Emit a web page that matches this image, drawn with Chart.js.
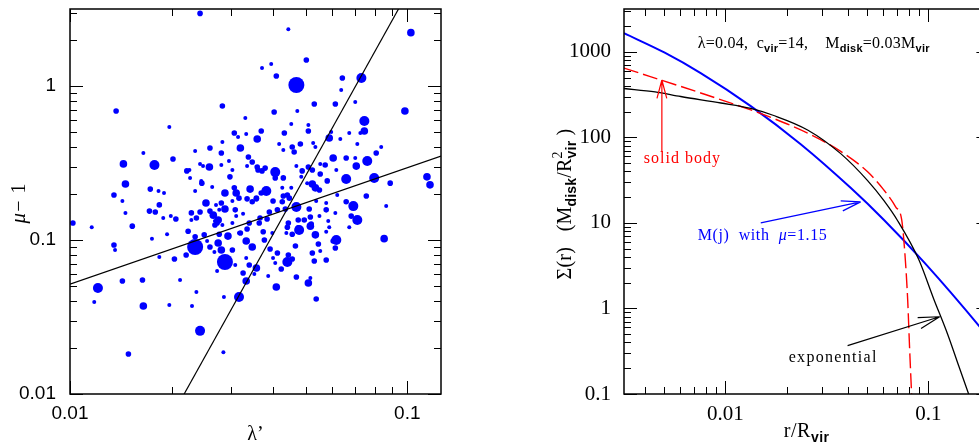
<!DOCTYPE html>
<html>
<head>
<meta charset="utf-8">
<script src="https://cdn.jsdelivr.net/npm/chart.js@4.4.1/dist/chart.umd.min.js"></script>
<style>
  html, body { margin: 0; padding: 0; background: #fff; width: 979px; height: 443px; overflow: hidden; }
  #left { position: absolute; left: 0; top: 0; }
  #right { position: absolute; left: 480px; top: 0; }
</style>
</head>
<body>
<canvas id="left" width="480" height="443"></canvas>
<canvas id="right" width="520" height="443"></canvas>
<script>
// ── Left panel data: spin parameter vs. shape parameter ──
const lambdaPrime = [
  0.0243,0.0444,0.1025,0.0502,0.0371,0.0395,0.0409,0.0469,0.0731,0.0642,
  0.0637,0.0283,0.0403,0.0472,0.0530,0.0612,0.0701,0.0984,0.0746,0.0331,
  0.0137,0.0197,0.0165,0.0144,0.0178,0.0202,0.0146,0.0135,0.0143,0.0146,
  0.0173,0.0183,0.0190,0.0184,0.0172,0.0179,0.0189,0.0199,0.0206,0.0153,
  0.0116,0.0102,0.0235,0.0260,0.0283,0.0281,0.0307,0.0315,0.0333,0.0359,
  0.0320,0.0338,0.0347,0.0335,0.0361,0.0296,0.0281,0.0303,0.0298,0.0259,
  0.0248,0.0243,0.0222,0.0226,0.0227,0.0245,0.0246,0.0264,0.0235,0.0288,
  0.0307,0.0311,0.0317,0.0342,0.0335,0.0347,0.0357,0.0253,0.0271,0.0281,
  0.0288,0.0309,0.0303,0.0277,0.0266,0.0275,0.0243,0.0229,0.0237,0.0229,
  0.0260,0.0311,0.0326,0.0303,0.0340,0.0364,0.0283,0.0273,
  0.0746,0.0726,0.0673,0.0453,0.0509,0.0369,0.0432,0.0509,0.0587,0.0595,
  0.0633,0.0417,0.0456,0.0482,0.0526,0.0462,0.0429,0.0534,0.0711,0.0809,
  0.0837,0.0603,0.0659,0.0701,0.0761,0.0706,0.0571,0.0552,0.0469,0.0509,
  0.0616,0.0488,0.0523,0.0552,0.0485,0.0429,0.0406,0.0406,0.0359,0.0379,
  0.0371,0.0579,0.0659,0.0798,0.0890,0.1144,0.1168,0.0523,0.0534,0.0549,
  0.0505,0.0426,0.0453,0.0382,0.0369,0.0357,0.0400,0.0429,0.0441,0.0447,
  0.0469,0.0512,0.0537,0.0575,0.0620,0.0659,0.0692,0.0756,0.0866,0.0575,
  0.0612,0.0549,0.0516,0.0682,0.0711,0.0426,0.0412,0.0435,0.0390,0.0366,
  0.0384,0.0444,0.0475,0.0495,0.0519,0.0583,0.0587,0.0673,0.0475,0.0441,
  0.0135,0.0136,0.0175,0.0194,0.0224,0.0235,0.0235,0.0221,0.0250,0.0255,
  0.0260,0.0268,0.0275,0.0277,0.0294,0.0288,0.0281,0.0303,0.0273,0.0309,
  0.0204,0.0184,0.0143,0.0164,0.0212,0.0121,0.0118,0.0165,0.0197,0.0230,
  0.0237,0.0286,0.0317,0.0243,0.0149,0.0285,0.0320,0.0333,0.0347,0.0333,
  0.0340,0.0326,0.0333,0.0357,0.0352,0.0335,0.0317,0.0269,0.0269,0.0854,
  0.0616,0.0603,0.0612,0.0575,0.0545,0.0552,0.0523,0.0530,0.0575,0.0534,
  0.0516,0.0478,0.0456,0.0466,0.0444,0.0441,0.0456,0.0423,0.0469,0.0516,
  0.0509,0.0537,0.0409,0.0387,0.0406,0.0400,0.0412,0.0392,0.0377,0.0374,
  0.0398,0.0438
];
const muMinusOne = [
  2.96,2.34,2.22,1.475,1.309,1.389,1.161,1.015,1.127,1.127,
  0.942,0.741,0.678,0.688,0.764,0.764,0.787,0.688,0.593,0.620,
  0.688,0.542,0.367,0.312,0.307,0.336,0.231,0.196,0.179,0.150,
  0.214,0.208,0.202,0.169,0.154,0.152,0.139,0.143,0.137,0.123,
  0.121,0.129,0.378,0.396,0.433,0.367,0.495,0.467,0.488,0.453,
  0.396,0.346,0.321,0.302,0.285,0.326,0.307,0.285,0.257,0.298,
  0.302,0.312,0.281,0.285,0.253,0.242,0.234,0.221,0.208,0.202,
  0.218,0.202,0.187,0.214,0.185,0.177,0.185,0.174,0.169,0.174,
  0.159,0.157,0.179,0.157,0.145,0.135,0.152,0.150,0.139,0.135,
  0.154,0.143,0.148,0.129,0.129,0.129,0.125,0.129,
  0.510,0.495,0.495,0.567,0.558,0.510,0.495,0.510,0.460,0.503,
  0.453,0.420,0.402,0.420,0.427,0.373,0.384,0.402,0.420,0.367,
  0.402,0.341,0.341,0.341,0.326,0.302,0.307,0.312,0.302,0.298,
  0.285,0.281,0.285,0.268,0.257,0.253,0.276,0.253,0.298,0.293,
  0.281,0.242,0.249,0.253,0.234,0.257,0.228,0.231,0.218,0.211,
  0.234,0.218,0.218,0.208,0.202,0.187,0.179,0.193,0.196,0.187,
  0.164,0.159,0.179,0.174,0.196,0.177,0.166,0.193,0.166,0.157,
  0.150,0.143,0.141,0.143,0.135,0.177,0.157,0.159,0.152,0.139,
  0.137,0.129,0.135,0.135,0.127,0.133,0.121,0.121,0.120,0.121,
  0.0928,0.0861,0.102,0.109,0.114,0.0901,0.105,0.0799,0.108,0.0985,
  0.0901,0.0836,0.0956,0.109,0.106,0.0720,0.0861,0.0861,0.0629,0.0688,
  0.0753,0.0776,0.0542,0.0550,0.0550,0.0488,0.0396,0.0373,0.0378,0.0373,
  0.0460,0.0427,0.0427,0.0257,0.0182,0.0187,0.111,0.0985,0.0901,0.0764,
  0.0688,0.0611,0.0542,0.0658,0.0602,0.118,0.111,0.125,0.133,0.102,
  0.100,0.0985,0.0887,0.113,0.0942,0.0848,0.0823,0.0731,0.0742,0.108,
  0.123,0.116,0.109,0.0914,0.0799,0.0720,0.0753,0.0648,0.0575,0.0567,
  0.0526,0.0414,0.0495,0.0584,0.0709,0.0764,0.0823,0.0874,0.100,0.113,
  0.111,0.111
];
// halo mass class (1 = lightest ... 5 = heaviest), shown as symbol size
const massClass = [
  2,1,3,2,1,1,2,5,4,2, 1,2,2,1,2,2,1,3,4,1, 2,1,1,3,4,2,3,2,1,1,
  2,1,1,2,2,2,1,1,2,2, 1,2,1,2,1,2,2,1,1,3, 3,2,2,1,2,1,1,1,2,3,
  1,1,2,1,1,1,2,1,1,3, 2,3,2,3,2,2,2,3,1,2, 3,2,1,1,3,3,2,2,2,1,
  2,1,1,1,2,2,1,2,
  3,1,1,1,1,2,2,2,3,1, 1,1,2,2,1,2,1,1,1,2, 1,3,2,1,4,3,2,1,1,2,
  1,2,2,2,1,2,4,2,2,2, 2,2,4,4,2,3,3,3,3,2, 1,1,1,4,2,2,2,2,2,2,
  4,2,1,1,1,2,4,2,1,2, 1,1,2,2,4,2,2,2,2,2, 2,2,2,2,2,1,1,1,2,2,
  2,1,1,1,2,5,2,2,2,1, 2,1,3,2,3,5,3,2,1,1, 2,1,2,2,1,4,1,3,1,1,
  1,1,4,4,2,1,2,3,3,1, 2,2,3,3,1,2,1,2,1,3, 4,2,2,1,2,1,2,2,2,3,
  3,4,2,2,2,4,2,2,2,1, 3,2,3,1,1,1,2,2,2,2, 1,1
];
// two power-law fits
const shallowFitLambda = [0.01, 0.1259];
const shallowFitMu = [0.0516, 0.351];
const steepFitLambda = [0.0218, 0.0942];
const steepFitMu = [0.01, 3.162];

const lambdaTickLabels = [0.01, 0.1];
const muTickLabels = [0.01, 0.1, 1];

// ── Right panel data: surface density profiles ──
const expR = [0.003162, 0.0045, 0.00602, 0.0095, 0.01333, 0.0173, 0.0254, 0.0370, 0.0502, 0.0603, 0.0706, 0.0896, 0.1062, 0.1245, 0.141, 0.158];
const expSigma = [372, 340, 300, 252, 218, 180, 122, 64.5, 31.2, 18.3, 10.6, 3.75, 1.3, 0.50, 0.215, 0.1];
const solidR = [0.003162, 0.00755, 0.01333, 0.0173, 0.0254, 0.0370, 0.0502, 0.0603, 0.0690, 0.0739, 0.0764, 0.0791, 0.0809, 0.0827];
const solidSigma = [645, 330, 209, 166, 112, 68.5, 39.5, 24.3, 15.4, 10.9, 4.86, 1.27, 0.331, 0.1];
const mjR = [0.003162, 0.00502, 0.00755, 0.01333, 0.0235, 0.0414, 0.0603, 0.0959, 0.179, 0.2];
const mjSigma = [1650, 976, 564, 232, 83.1, 25.7, 10.9, 3.41, 0.613, 0.44];

const rTickLabels = [0.01, 0.1];
const sigmaTickLabels = [0.1, 1, 10, 100, 1000];

// ── Helpers ──
const SERIF = '"Liberation Serif", "DejaVu Serif", serif';
const SANS = '"Liberation Sans", "DejaVu Sans", sans-serif';
const RADIUS = { 1: 2, 2: 2.8, 3: 3.8, 4: 5, 5: 8 };
const zip = (xs, ys) => xs.map((x, i) => ({ x, y: ys[i] }));

function decadeTicks(min, max) {
  const out = [];
  for (let n = Math.floor(Math.log10(min)); n <= Math.ceil(Math.log10(max)); n++) {
    for (let k = 1; k <= 9; k++) {
      const v = k * Math.pow(10, n);
      if (v >= min * 0.999 && v <= max * 1.001) out.push({ v, major: k === 1 });
    }
  }
  return out;
}

// inward ticks on all four sides plus the frame
const boxTicks = {
  id: 'boxTicks',
  afterDraw(chart) {
    const { ctx, chartArea: a, scales: { x, y } } = chart;
    ctx.save();
    ctx.strokeStyle = '#000';
    ctx.lineWidth = 1;
    ctx.beginPath();
    decadeTicks(x.min, x.max).forEach(t => {
      const p = Math.round(x.getPixelForValue(t.v)) + 0.5;
      const len = t.major ? 13 : 7;
      ctx.moveTo(p, a.bottom); ctx.lineTo(p, a.bottom - len);
      ctx.moveTo(p, a.top); ctx.lineTo(p, a.top + len);
    });
    decadeTicks(y.min, y.max).forEach(t => {
      const p = Math.round(y.getPixelForValue(t.v)) + 0.5;
      const len = t.major ? 13 : 7;
      ctx.moveTo(a.left, p); ctx.lineTo(a.left + len, p);
      ctx.moveTo(a.right, p); ctx.lineTo(a.right - len, p);
    });
    ctx.stroke();
    ctx.lineWidth = 1.5;
    ctx.strokeRect(a.left, a.top, a.right - a.left, a.bottom - a.top);
    ctx.restore();
  }
};

// text with sub/superscripts; a part with stack:true sits above/below the previous one
function rich(ctx, parts, x, y, color, align, spacing) {
  ctx.save();
  ctx.fillStyle = color;
  ctx.textAlign = 'left';
  ctx.textBaseline = 'alphabetic';
  if ('letterSpacing' in ctx) ctx.letterSpacing = (spacing || 0) + 'px';
  const widths = parts.map(p => { ctx.font = p.font; return ctx.measureText(p.text).width; });
  let total = 0, start = 0, lastW = 0;
  parts.forEach((p, i) => {
    if (p.stack) { lastW = Math.max(lastW, widths[i]); total = start + lastW; }
    else { start = total; lastW = widths[i]; total += widths[i]; }
  });
  let cx = align === 'center' ? x - total / 2 : x;
  start = cx; lastW = 0;
  parts.forEach((p, i) => {
    ctx.font = p.font;
    if (p.stack) {
      ctx.fillText(p.text, start, y + (p.dy || 0));
      lastW = Math.max(lastW, widths[i]); cx = start + lastW;
    } else {
      ctx.fillText(p.text, cx, y + (p.dy || 0));
      start = cx; lastW = widths[i]; cx += widths[i];
    }
  });
  ctx.restore();
}

function rotated(ctx, parts, cx, cy, color, spacing) {
  ctx.save();
  ctx.translate(cx, cy);
  ctx.rotate(-Math.PI / 2);
  rich(ctx, parts, 0, 0, color, 'center', spacing);
  ctx.restore();
}

function arrow(ctx, x0, y0, x1, y1, color, head) {
  const ang = Math.atan2(y1 - y0, x1 - x0);
  ctx.save();
  ctx.strokeStyle = color;
  ctx.lineWidth = 1.2;
  ctx.beginPath();
  ctx.moveTo(x0, y0); ctx.lineTo(x1, y1);
  [-1, 1].forEach(s => {
    const b = ang + Math.PI + s * 0.26;
    ctx.moveTo(x1, y1);
    ctx.lineTo(x1 + head * Math.cos(b), y1 + head * Math.sin(b));
  });
  ctx.stroke();
  ctx.restore();
}

function logAxis(min, max, labels, font, padding, fit) {
  return {
    type: 'logarithmic', min, max,
    afterBuildTicks: s => { s.ticks = labels.map(v => ({ value: v })); },
    afterFit: s => {
      fit(s);
      s.paddingTop = 0; s.paddingBottom = 0; s.paddingLeft = 0; s.paddingRight = 0;
    },
    ticks: { callback: v => String(v), autoSkip: false, maxRotation: 0, color: '#000', font, padding },
    grid: { display: false, drawTicks: false },
    border: { display: false }
  };
}

// ── Left chart ──
const leftText = {
  id: 'leftText',
  afterDraw(chart) {
    const { ctx, chartArea: a } = chart;
    rich(ctx, [{ text: 'λ\u2019', font: `20px ${SERIF}` }], (a.left + a.right) / 2, 440, '#000', 'center');
    rotated(ctx, [{ text: 'μ', font: `italic 21px ${SERIF}` }, { text: '\u2212 1', font: `20px ${SERIF}` }],
      25, 203, '#000', 1);
  }
};

new Chart(document.getElementById('left'), {
  type: 'scatter',
  data: {
    datasets: [
      { data: zip(shallowFitLambda, shallowFitMu), showLine: true, borderColor: '#000', borderWidth: 1.2, pointRadius: 0 },
      { data: zip(steepFitLambda, steepFitMu), showLine: true, borderColor: '#000', borderWidth: 1.2, pointRadius: 0 },
      {
        data: zip(lambdaPrime, muMinusOne),
        backgroundColor: '#0000ff', borderWidth: 0,
        pointRadius: c => RADIUS[massClass[c.dataIndex]]
      }
    ]
  },
  options: {
    responsive: false, animation: false,
    layout: { padding: { left: 0, top: 9, right: 39, bottom: 0 } },
    plugins: { legend: { display: false }, tooltip: { enabled: false } },
    scales: {
      x: logAxis(0.01, 0.1259, lambdaTickLabels, { family: SANS, size: 19 }, 8, s => { s.height = 49; }),
      y: logAxis(0.01, 3.162, muTickLabels, { family: SANS, size: 19 }, 14, s => { s.width = 70; })
    }
  },
  plugins: [boxTicks, leftText]
});

// ── Right chart ──
const rightText = {
  id: 'rightText',
  afterDraw(chart) {
    const { ctx, chartArea: a, scales: { x, y } } = chart;
    const sub = `bold 11px ${SANS}`;
    const at = (r, s) => [x.getPixelForValue(r), y.getPixelForValue(s)];

    // axis titles
    rich(ctx, [{ text: 'r/R', font: `20px ${SERIF}` }, { text: 'vir', font: `bold 14px ${SANS}`, dy: 5 }],
      (a.left + a.right) / 2, 437, '#000', 'center', 0.5);
    rotated(ctx, [
      { text: 'Σ(r)   (M', font: `20px ${SERIF}` },
      { text: 'disk', font: `bold 14px ${SANS}`, dy: 5 },
      { text: '/R', font: `20px ${SERIF}` },
      { text: '2', font: `14px ${SERIF}`, dy: -9 },
      { text: 'vir', font: `bold 14px ${SANS}`, dy: 5, stack: true },
      { text: ' )', font: `20px ${SERIF}` }
    ], 91, 204, '#000', 0.2);

    // parameters
    let p = at(0.0073, 1104);
    rich(ctx, [
      { text: 'λ=0.04,  c', font: `16px ${SERIF}` }, { text: 'vir', font: sub, dy: 4 },
      { text: '=14,    M', font: `16px ${SERIF}` }, { text: 'disk', font: sub, dy: 4 },
      { text: '=0.03M', font: `16px ${SERIF}` }, { text: 'vir', font: sub, dy: 4 }
    ], p[0], p[1], '#000', 'left', 0.25);

    // labels and arrows
    p = at(0.00396, 50.2);
    rich(ctx, [{ text: 'solid body', font: `16px ${SERIF}` }], p[0], p[1], '#ff0000', 'left', 1);
    let t = at(0.00486, 67.6), h = at(0.00486, 468);
    arrow(ctx, t[0], t[1], h[0], h[1], '#ff0000', 19);

    p = at(0.0073, 6.35);
    rich(ctx, [{ text: 'M(j)  with  ', font: `16px ${SERIF}` }, { text: 'μ', font: `italic 16px ${SERIF}` },
      { text: '=1.15', font: `16px ${SERIF}` }], p[0], p[1], '#0000ff', 'left', 0.6);
    t = at(0.01493, 10.0); h = at(0.0464, 17.6);
    arrow(ctx, t[0], t[1], h[0], h[1], '#0000ff', 20);

    p = at(0.0205, 0.239);
    rich(ctx, [{ text: 'exponential', font: `16px ${SERIF}` }], p[0], p[1], '#000', 'left', 1.3);
    t = at(0.0400, 0.368); h = at(0.1137, 0.80);
    arrow(ctx, t[0], t[1], h[0], h[1], '#000', 22);
  }
};

new Chart(document.getElementById('right'), {
  type: 'scatter',
  data: {
    datasets: [
      { data: zip(expR, expSigma), showLine: true, borderColor: '#000', borderWidth: 1.3, pointRadius: 0, cubicInterpolationMode: 'monotone' },
      { data: zip(solidR, solidSigma), showLine: true, borderColor: '#ff0000', borderWidth: 1.4, borderDash: [15, 5], pointRadius: 0, cubicInterpolationMode: 'monotone' },
      { data: zip(mjR, mjSigma), showLine: true, borderColor: '#0000ff', borderWidth: 2, pointRadius: 0, cubicInterpolationMode: 'monotone' }
    ]
  },
  options: {
    responsive: false, animation: false,
    layout: { padding: { left: 0, top: 9, right: 10.6, bottom: 0 } },
    plugins: { legend: { display: false }, tooltip: { enabled: false } },
    scales: {
      x: logAxis(0.003162, 0.2, rTickLabels, { family: SERIF, size: 21 }, 8, s => { s.height = 49; }),
      y: logAxis(0.1, 3162.3, sigmaTickLabels, { family: SERIF, size: 21 }, 13, s => { s.width = 144; })
    }
  },
  plugins: [boxTicks, rightText]
});
</script>
</body>
</html>
